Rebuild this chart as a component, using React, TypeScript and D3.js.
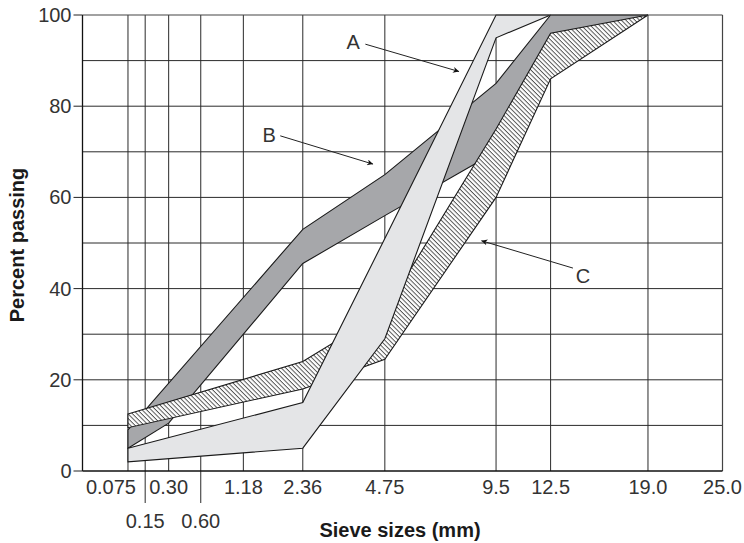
import React from "react";
import * as d3 from "d3";

// ---- data ----
const SIEVE_SIZES = [0.075, 0.15, 0.3, 0.6, 1.18, 2.36, 4.75, 9.5, 12.5, 19.0, 25.0];
const SIEVE_LABELS = ["0.075", "0.15", "0.30", "0.60", "1.18", "2.36", "4.75", "9.5", "12.5", "19.0", "25.0"];
const LOWER_ROW_LABELS = ["0.15", "0.60"];
const Y_TICKS = [0, 20, 40, 60, 80, 100];
const Y_GRID = [10, 20, 30, 40, 50, 60, 70, 80, 90];

const A_UPPER_SIZES = [0.075, 2.36, 4.75, 9.5, 12.5];
const A_UPPER = [5, 15, 51, 100, 100];
const A_LOWER_SIZES = [0.075, 2.36, 4.75, 9.5, 12.5];
const A_LOWER = [2, 5, 29, 95, 100];

const B_UPPER_SIZES = [0.075, 2.36, 4.75, 9.5, 12.5, 19.0];
const B_UPPER = [9, 53, 65, 85, 100, 100];
const B_LOWER_SIZES = [0.075, 0.3, 2.36, 4.75, 9.5, 12.5, 19.0];
const B_LOWER = [5, 10.5, 45.5, 56, 70, 90, 100];

const C_SIZES = [0.075, 2.36, 4.75, 9.5, 12.5, 19.0];
const C_UPPER = [12.5, 24, 35, 75, 96, 100];
const C_LOWER = [9.5, 18, 24.5, 60, 86, 100];

// annotations: label position, line start, arrow tip (data space)
const ANN_LABELS = ["A", "B", "C"];
const ANN_TEXT_X = [3.72, 1.64, 14.5];
const ANN_TEXT_Y = [92.5, 72.1, 41.2];
const ANN_START_X = [4.1, 1.86, 13.86];
const ANN_START_Y = [93.6, 73.5, 44.5];
const ANN_TIP_X = [7.72, 4.35, 8.77];
const ANN_TIP_Y = [87.6, 67.3, 50.5];

const W = 744;
const H = 543;

export default function App() {
  const x = d3.scalePow().exponent(0.45).domain([0, 25]).range([81, 722.5]);
  const y = d3.scaleLinear().domain([0, 100]).range([471, 15]);

  const line = d3
    .line<[number, number]>()
    .x((d) => x(d[0]))
    .y((d) => y(d[1]));

  const band = (us: number[], u: number[], ls: number[], l: number[]) => {
    const up: [number, number][] = us.map((s, i) => [s, u[i]]);
    const lo: [number, number][] = ls.map((s, i) => [s, l[i]]).reverse() as [number, number][];
    return line(up.concat(lo)) + "Z";
  };

  const pathA = band(A_UPPER_SIZES, A_UPPER, A_LOWER_SIZES, A_LOWER);
  const pathB = band(B_UPPER_SIZES, B_UPPER, B_LOWER_SIZES, B_LOWER);
  const pathC = band(C_SIZES, C_UPPER, C_SIZES, C_LOWER);

  const font = "'Liberation Sans', Arial, Helvetica, sans-serif";
  const gridColor = "#2a2a2a";
  const x0 = x(0) + 1.5;
  const x1 = x(25);

  return (
    <svg
      width={W}
      height={H}
      style={{ position: "absolute", left: 0, top: 0, background: "#fff" }}
      fontFamily={font}
    >
      <defs>
        <pattern id="hatch" width="8" height="3.2" patternUnits="userSpaceOnUse" patternTransform="rotate(45)">
          <rect width="8" height="3.2" fill="#fff" />
          <line x1="0" y1="0.5" x2="8" y2="0.5" stroke="#444" strokeWidth="0.9" />
        </pattern>
        <marker id="arrow" viewBox="0 0 10 10" refX="10" refY="5" markerWidth="9" markerHeight="6" markerUnits="userSpaceOnUse" orient="auto">
          <path d="M0,0 L10,5 L0,10 L3,5 Z" fill="#111" />
        </marker>
      </defs>

      {/* horizontal grid */}
      {Y_GRID.map((v) => (
        <line key={"h" + v} x1={x0} x2={x1} y1={y(v)} y2={y(v)} stroke={gridColor} strokeWidth={1} />
      ))}
      {/* vertical grid */}
      {SIEVE_SIZES.slice(0, -1).map((s, i) => (
        <line
          key={"v" + s}
          x1={x(s)}
          x2={x(s)}
          y1={y(100)}
          y2={LOWER_ROW_LABELS.includes(SIEVE_LABELS[i]) ? 503 : y(0)}
          stroke={gridColor}
          strokeWidth={1}
        />
      ))}

      {/* bands */}
      <path d={pathB} fill="#a6a7aa" stroke="#1a1a1a" strokeWidth={1.1} strokeLinejoin="miter" />
      <path d={pathC} fill="url(#hatch)" stroke="#1a1a1a" strokeWidth={1.1} />
      <path d={pathA} fill="#e4e5e7" stroke="#1a1a1a" strokeWidth={1.1} />

      {/* frame */}
      <line x1={x0} x2={x1} y1={y(100)} y2={y(100)} stroke="#444" strokeWidth={1.2} />
      <line x1={x1} x2={x1} y1={y(100)} y2={y(0)} stroke="#444" strokeWidth={1.2} />
      <line x1={x0} x2={x0} y1={y(100)} y2={y(0)} stroke="#111" strokeWidth={1.3} />
      <line x1={x0} x2={x1} y1={y(0)} y2={y(0)} stroke="#111" strokeWidth={1.5} />

      {/* y ticks */}
      {Y_TICKS.map((v) => (
        <g key={"yt" + v}>
          <line x1={x0 - 9} x2={x0} y1={y(v)} y2={y(v)} stroke="#222" strokeWidth={1} />
          <text x={x0 - 11} y={y(v) + 7} textAnchor="end" fontSize={20} fill="#333">
            {v}
          </text>
        </g>
      ))}

      {/* x tick labels */}
      {SIEVE_SIZES.map((s, i) => {
        const lbl = SIEVE_LABELS[i];
        const lower = LOWER_ROW_LABELS.includes(lbl);
        const dx = lbl === "0.075" ? -17 : 0;
        return (
          <text key={"xt" + s} x={x(s) + dx} y={lower ? 528 : 494} textAnchor="middle" fontSize={20} fill="#333">
            {lbl}
          </text>
        );
      })}

      {/* axis titles */}
      <text x={400} y={536.5} textAnchor="middle" fontSize={20} fontWeight="bold" fill="#1a1a1a">
        Sieve sizes (mm)
      </text>
      <text
        transform="translate(24,245) rotate(-90)"
        textAnchor="middle"
        fontSize={20}
        fontWeight="bold"
        fill="#1a1a1a"
      >
        Percent passing
      </text>

      {/* annotations */}
      {ANN_LABELS.map((lbl, i) => (
        <g key={"ann" + lbl}>
          <line
            x1={x(ANN_START_X[i])}
            y1={y(ANN_START_Y[i])}
            x2={x(ANN_TIP_X[i])}
            y2={y(ANN_TIP_Y[i])}
            stroke="#222"
            strokeWidth={1}
            markerEnd="url(#arrow)"
          />
          <text x={x(ANN_TEXT_X[i])} y={y(ANN_TEXT_Y[i])} textAnchor="middle" fontSize={20} fill="#333">
            {lbl}
          </text>
        </g>
      ))}
    </svg>
  );
}
